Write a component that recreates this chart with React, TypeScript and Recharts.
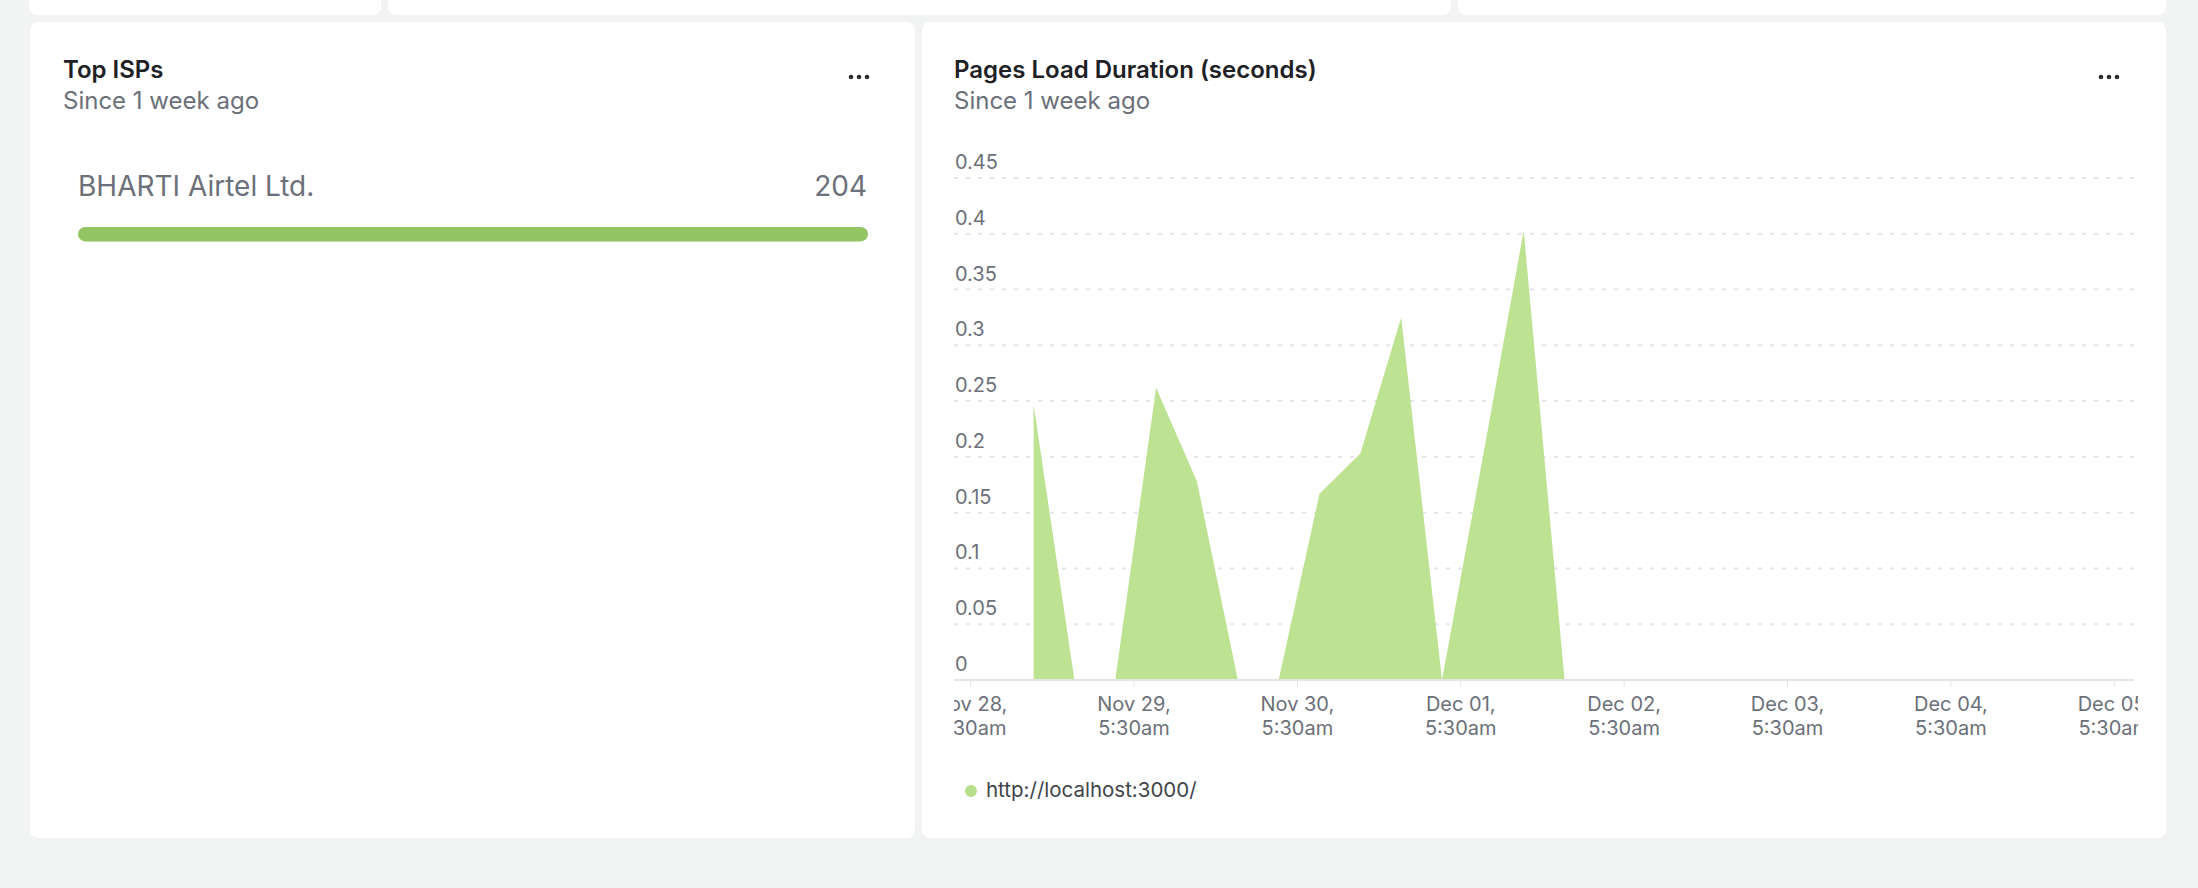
import { AreaChart, Area, XAxis, YAxis, CartesianGrid, BarChart, Bar } from "recharts";

const ispNames = ["BHARTI Airtel Ltd."];
const ispCounts = [204];

// hours after Nov 28, 5:30am
const loadHours = [9.25, 15.25, 21.25, 27.25, 33.25, 39.25, 45.25, 51.25, 57.25, 63.25, 69.25, 75.25, 81.25, 87.25];
const loadSeconds = [0.247, 0, 0, 0.262, 0.178, 0, 0, 0.167, 0.203, 0.325, 0, 0.2, 0.403, 0];
const seriesName = "http://localhost:3000/";

const dayTicks = [0, 24, 48, 72, 96, 120, 144, 168];
const dayLabels = ["Nov 28,", "Nov 29,", "Nov 30,", "Dec 01,", "Dec 02,", "Dec 03,", "Dec 04,", "Dec 05,"];
const timeLabel = "5:30am";
const yTicks = [0, 0.05, 0.1, 0.15, 0.2, 0.25, 0.3, 0.35, 0.4, 0.45];

const FONT = "Inter, 'Noto Sans', sans-serif";
const GREEN = "#bde392";
const GREY = "#6b7079";

const loadData = loadHours.map((t, i) => ({ t, v: loadSeconds[i] }));
const ispData = ispNames.map((name, i) => ({ name, count: ispCounts[i] }));

const DayTick = ({ x, y, payload }: any) => {
  const i = dayTicks.indexOf(payload.value);
  return (
    <text x={x} y={y} textAnchor="middle" fill={GREY} fontSize={20} fontFamily={FONT}>
      <tspan x={x} dy={22}>{dayLabels[i]}</tspan>
      <tspan x={x} dy={24}>{timeLabel}</tspan>
    </text>
  );
};

const ValueTick = ({ y, payload }: any) => (
  <text x={1} y={y - 9} fill={GREY} fontSize={20} fontFamily={FONT} textAnchor="start">
    {String(payload.value)}
  </text>
);

const Dots = ({ right }: { right: number }) => (
  <svg style={{ position: "absolute", left: right - 24, top: 50 }} width={24} height={10}>
    {[4, 12, 20].map((cx) => <circle key={cx} cx={cx} cy={5} r={2.3} fill="#2b2f33" />)}
  </svg>
);

const card = (left: number, top: number, width: number, height: number): any => ({
  position: "absolute", left, top, width, height, background: "#fff", borderRadius: 8,
});

export default function App() {
  return (
    <div style={{ position: "absolute", left: 0, top: 0, width: 2198, height: 888, background: "#f2f4f3", fontFamily: FONT, overflow: "hidden" }}>
      <div style={card(29, -20, 352, 35)} />
      <div style={card(388, -20, 1063, 35)} />
      <div style={card(1458, -20, 708, 35)} />

      {/* Top ISPs */}
      <div style={card(30, 22, 885, 816)}>
        <div style={{ position: "absolute", left: 33, top: 33, fontSize: 24, lineHeight: "30px", fontWeight: 600, color: "#1d2125" }}>Top ISPs</div>
        <div style={{ position: "absolute", left: 33, top: 64, fontSize: 24, lineHeight: "30px", color: GREY }}>Since 1 week ago</div>
        <Dots right={871 - 30} />
        {ispData.map((d) => (
          <div key={d.name}>
            <div style={{ position: "absolute", left: 48, top: 147, fontSize: 28, lineHeight: "34px", color: GREY }}>{d.name}</div>
            <div style={{ position: "absolute", right: 885 - 837, top: 147, fontSize: 28, lineHeight: "34px", color: GREY }}>{d.count}</div>
          </div>
        ))}
        <div style={{ position: "absolute", left: 48, top: 204 }}>
          <BarChart width={790} height={16} data={ispData} layout="vertical" margin={{ top: 0, right: 0, bottom: 0, left: 0 }}>
            <XAxis type="number" hide domain={[0, Math.max(...ispCounts)]} />
            <YAxis type="category" dataKey="name" hide />
            <Bar dataKey="count" fill="#94c564" radius={8} barSize={16} isAnimationActive={false} />
          </BarChart>
        </div>
      </div>

      {/* Pages Load Duration */}
      <div style={card(922, 22, 1244, 816)}>
        <div style={{ position: "absolute", left: 32, top: 33, fontSize: 24, lineHeight: "30px", fontWeight: 600, color: "#1d2125" }}>Pages Load Duration (seconds)</div>
        <div style={{ position: "absolute", left: 32, top: 64, fontSize: 24, lineHeight: "30px", color: GREY }}>Since 1 week ago</div>
        <Dots right={2121 - 922} />
        <div style={{ position: "absolute", left: 954 - 922, top: 150 - 22, width: 1184, height: 620, overflow: "hidden" }}>
          <AreaChart width={1184} height={620} data={loadData} margin={{ top: 28, right: 4, bottom: 0, left: 0 }}>
            <CartesianGrid vertical={false} strokeDasharray="4 8" stroke="#e6e6e6" strokeWidth={2} />
            <XAxis
              type="number"
              dataKey="t"
              domain={[-2.44, 170.9]}
              ticks={dayTicks}
              height={90}
              tick={<DayTick />}
              tickSize={7}
              axisLine={{ stroke: "#e4e4e4", strokeWidth: 2 }}
              tickLine={{ stroke: "#e4e4e4" }}
              interval={0}
            />
            <YAxis mirror width={60} domain={[0, 0.45]} ticks={yTicks} axisLine={false} tickLine={false} tick={<ValueTick />} interval={0} />
            <Area type="linear" dataKey="v" name={seriesName} stroke="none" fill={GREEN} fillOpacity={1} isAnimationActive={false} dot={false} activeDot={false} />
          </AreaChart>
        </div>
        <div style={{ position: "absolute", left: 965 - 922, top: 785 - 22, width: 12, height: 12, borderRadius: 6, background: "#b6e08c" }} />
        <div style={{ position: "absolute", left: 986 - 922, top: 776 - 22, fontSize: 20.5, lineHeight: "28px", color: "#3f444a" }}>{seriesName}</div>
      </div>
    </div>
  );
}
